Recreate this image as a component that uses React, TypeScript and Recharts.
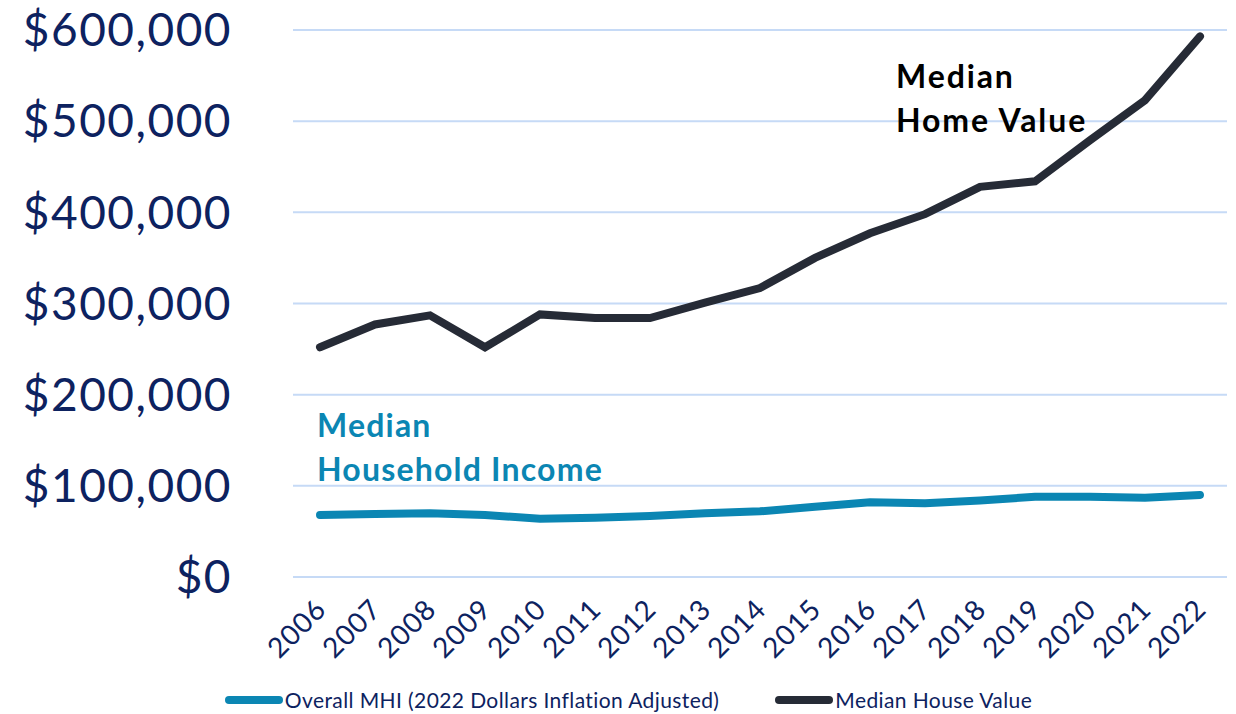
import React from "react";
import { LineChart, Line, XAxis, YAxis, CartesianGrid, Legend } from "recharts";

const years = ["2006", "2007", "2008", "2009", "2010", "2011", "2012", "2013", "2014", "2015", "2016", "2017", "2018", "2019", "2020", "2021", "2022"];
const mhi = [68000, 69000, 70000, 68000, 64000, 65000, 67000, 70000, 72000, 77000, 82000, 81000, 84000, 88000, 88000, 87000, 90000];
const houseValue = [252000, 277000, 287000, 252000, 288000, 284000, 284000, 301000, 317000, 350000, 377000, 398000, 428000, 434000, 479000, 523000, 593000];
const yTicks = [0, 100000, 200000, 300000, 400000, 500000, 600000];

const NAVY = "#0D2260";
const TEAL = "#0B86B3";
const DARK = "#262B36";
const FONT = "Lato, 'Open Sans', sans-serif";

const data = years.map((y, i) => ({ year: y, mhi: mhi[i], value: houseValue[i] }));

const fmt = (v: number) => "$" + v.toLocaleString("en-US");

const legendItems = [
  { label: "Overall MHI (2022 Dollars Inflation Adjusted)", color: TEAL },
  { label: "Median House Value", color: DARK },
];

function LegendContent() {
  return (
    <div style={{ display: "flex", justifyContent: "center", gap: 56, fontFamily: FONT, fontSize: 21, letterSpacing: 0.4, color: NAVY, paddingTop: 13, paddingLeft: 30 }}>
      {legendItems.map((it) => (
        <div key={it.label} style={{ display: "flex", alignItems: "center" }}>
          <span style={{ display: "inline-block", width: 58, height: 8, borderRadius: 4, background: it.color, marginRight: 2 }} />
          <span>{it.label}</span>
        </div>
      ))}
    </div>
  );
}

export default function App() {
  return (
    <div style={{ position: "relative", width: 1236, height: 714, background: "#fff" }}>
      <style>{`body{margin:0}`}</style>
      <LineChart width={1236} height={714} data={data} margin={{ top: 30, right: 9, left: 0, bottom: 0 }}>
        <CartesianGrid vertical={false} stroke="#C6DAF6" strokeWidth={2} />
        <XAxis
          dataKey="year"
          axisLine={false}
          tickLine={false}
          interval={0}
          angle={-45}
          textAnchor="end"
          height={97}
          padding={{ left: 27, right: 27 }}
          tick={{ fill: NAVY, fontSize: 28, fontFamily: FONT, letterSpacing: 1, dx: -6 }}
          tickMargin={14}
        />
        <YAxis
          domain={[0, 600000]}
          ticks={yTicks}
          axisLine={false}
          tickLine={false}
          width={293}
          tickMargin={55}
          tickFormatter={fmt}
          tick={{ fill: NAVY, fontSize: 46, fontFamily: FONT, letterSpacing: 1.5 }}
        />
        <Legend verticalAlign="bottom" height={40} content={<LegendContent />} />
        <Line type="linear" dataKey="mhi" stroke={TEAL} strokeWidth={8} strokeLinecap="round" dot={false} isAnimationActive={false} />
        <Line type="linear" dataKey="value" stroke={DARK} strokeWidth={8} strokeLinecap="round" dot={false} isAnimationActive={false} />
      </LineChart>
      <div style={{ position: "absolute", left: 896, top: 54, fontFamily: FONT, fontWeight: 700, fontSize: 32, letterSpacing: 1.9, lineHeight: "44px", color: "#000" }}>
        Median<br />Home Value
      </div>
      <div style={{ position: "absolute", left: 317, top: 403, fontFamily: FONT, fontWeight: 700, fontSize: 32, letterSpacing: 1.2, lineHeight: "44px", color: TEAL }}>
        Median<br />Household Income
      </div>
    </div>
  );
}
